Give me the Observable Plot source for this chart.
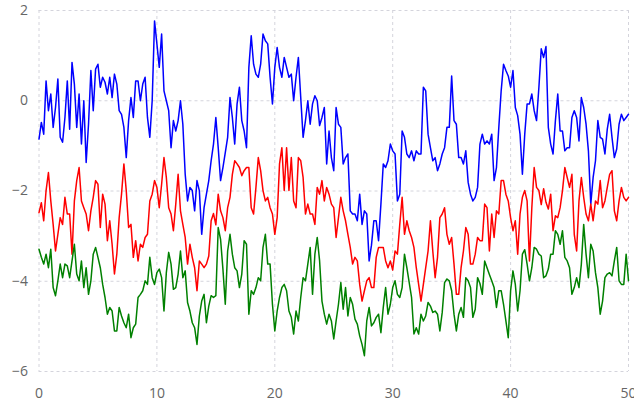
<!DOCTYPE html>
<html>
<head>
<meta charset="utf-8">
<script src="https://cdn.jsdelivr.net/npm/d3@7"></script>
<script src="https://cdn.jsdelivr.net/npm/@observablehq/plot@0.6"></script>
<style>
  html, body { margin: 0; padding: 0; background: #fff; }
</style>
</head>
<body>
<div id="chart"></div>
<script>
// x sampled every 0.2 from 0 to 50
const xStep = 0.2;
const xTicks = [0, 10, 20, 30, 40, 50];
const yTicks = [-6, -4, -2, 0, 2];

const blue = [
  -0.85, -0.48, -0.74, 0.44, -0.22, 0.15, -0.59, -0.15, 0.48, -0.81,
  -0.92, -0.37, 0.44, -0.63, 0.85, 0.37, -0.59, 0.15, -0.96, 0.0,
  -1.37, -0.52, 0.67, -0.22, 0.70, 0.81, 0.30, 0.52, 0.41, 0.15,
  0.52, 0.07, 0.59, 0.37, -0.22, -0.30, -0.59, -1.26, -0.44, 0.07,
  -0.37, 0.44, 0.44, 0.0, 0.37, 0.52, -0.37, -0.81, 0.0, 1.77,
  1.26, 0.74, 1.48, 0.22, 0.0, -0.22, -1.04, -0.44, -0.67, -0.44,
  0.0, -0.52, -1.63, -2.22, -1.92, -1.99, -2.44, -1.77, -1.99, -2.96,
  -2.37, -2.07, -1.77, -1.33, -0.96, -0.37, -1.04, -1.77, -1.48, -1.15,
  -0.81, 0.07, -0.37, -0.96, -0.07, 0.30, -0.44, -0.67, -1.04, 0.74,
  1.44, 0.81, 0.59, 0.52, 0.81, 1.48, 1.33, 1.26, 0.52, -0.07,
  0.74, 1.18, 0.74, 0.52, 0.96, 0.74, 0.52, 0.59, 0.0, 0.52,
  0.96, 0.07, -0.81, -0.44, 0.0, -0.52, -0.07, 0.11, 0.0, -0.55,
  -0.37, -0.15, -1.40, -0.67, -1.26, -1.55, -0.15, -0.52, -0.59, -1.40,
  -1.26, -1.18, -2.44, -2.51, -2.51, -2.66, -2.07, -2.74, -2.44, -2.51,
  -3.55, -3.20, -2.66, -2.66, -3.10, -2.29, -1.40, -1.48, -1.33, -0.96,
  -1.11, -1.18, -2.22, -2.07, -0.67, -0.81, -1.18, -1.26, -1.11, -1.33,
  -1.11, -1.18, -1.18, 0.30, 0.22, -0.74, -1.04, -1.33, -1.26, -1.55,
  -1.40, -1.18, -1.04, -0.59, -0.59, 0.55, -0.44, -0.52, -1.26, -1.26,
  -1.40, -1.11, -1.81, -2.07, -2.22, -2.14, -1.92, -0.96, -0.74, -0.96,
  -0.89, -0.96, -0.74, -1.77, -1.48, -0.59, 0.22, 0.81, 0.67, 0.55,
  0.30, 0.67, -0.15, -0.33, -0.74, -1.63, -0.74, -0.07, -0.07, 0.15,
  -0.22, -0.44, 0.30, 1.15, 0.96, 1.20, -0.59, -0.96, -1.18, -0.44,
  0.15, -0.67, -0.67, -1.11, -1.04, -1.04, -0.37, -0.22, -0.37, -0.89,
  0.07, -0.15, -0.52, -1.11, -2.29, -1.70, -1.33, -0.44, -0.81, -0.85,
  -1.18, -0.63, -0.30, -0.81, -1.26, -1.07, -0.52, -0.30, -0.44, -0.37,
  -0.30
];

const red = [
  -2.48, -2.26, -2.66, -1.99, -1.59, -2.22, -2.74, -3.33, -2.96, -2.59,
  -2.74, -2.14, -2.51, -2.51, -3.40, -2.22, -1.77, -1.48, -2.22, -2.37,
  -2.51, -2.88, -2.44, -2.14, -1.77, -1.85, -2.81, -2.07, -2.29, -3.10,
  -2.66, -3.18, -3.84, -3.40, -2.59, -2.07, -1.40, -1.99, -2.81, -2.74,
  -3.47, -3.10, -3.55, -3.18, -3.25, -3.03, -2.96, -2.22, -2.07, -1.77,
  -1.92, -2.37, -1.85, -1.26, -1.70, -2.37, -2.51, -2.88, -2.29, -1.63,
  -2.44, -2.74, -3.03, -3.62, -3.18, -3.47, -3.70, -4.21, -3.55, -3.62,
  -3.70, -3.62, -3.44, -2.66, -2.50, -2.75, -2.07, -2.44, -2.59, -2.88,
  -2.37, -2.14, -1.63, -1.33, -1.40, -1.48, -1.66, -1.55, -1.48, -1.48,
  -2.37, -2.51, -1.92, -1.26, -1.55, -1.99, -2.22, -2.14, -2.37, -2.51,
  -2.96, -2.59, -1.40, -1.04, -1.99, -1.04, -1.99, -1.26, -2.22, -2.37,
  -1.26, -1.33, -1.70, -2.51, -2.29, -2.51, -2.51, -2.74, -1.92, -2.07,
  -1.77, -2.22, -1.92, -2.07, -2.29, -2.37, -3.03, -2.59, -2.14, -2.44,
  -2.66, -2.96, -3.25, -3.62, -3.47, -3.55, -4.07, -4.44, -4.21, -3.99,
  -3.92, -4.14, -4.14, -3.47, -3.25, -3.25, -3.25, -3.55, -3.70, -3.55,
  -3.75, -3.33, -3.40, -2.74, -2.14, -2.96, -2.66, -2.88, -3.03, -3.25,
  -3.70, -4.07, -4.44, -4.07, -3.70, -3.33, -2.66, -3.33, -3.92, -3.47,
  -2.59, -2.51, -2.37, -2.96, -3.18, -3.03, -3.62, -4.29, -4.29, -3.70,
  -3.33, -2.81, -2.96, -3.62, -3.62, -3.40, -3.03, -3.10, -3.10, -2.29,
  -2.37, -3.33, -2.51, -3.03, -2.44, -2.51, -1.77, -1.77, -2.07, -2.22,
  -2.59, -2.88, -2.66, -3.40, -2.51, -2.14, -1.99, -2.22, -3.55, -2.37,
  -1.48, -1.92, -1.99, -2.30, -1.95, -2.25, -2.40, -2.07, -2.88, -2.55,
  -2.59, -2.37, -1.99, -1.48, -1.70, -1.92, -1.63, -2.96, -3.33, -2.22,
  -1.70, -2.14, -2.51, -2.66, -2.29, -2.66, -2.22, -2.29, -1.77, -2.37,
  -2.22, -1.92, -1.63, -1.55, -2.44, -2.66, -2.22, -1.92, -2.14, -2.22,
  -2.14
];

const green = [
  -3.29, -3.47, -3.62, -3.40, -3.70, -3.29, -4.14, -4.32, -3.99, -3.62,
  -3.92, -3.62, -3.66, -3.92, -3.55, -3.18, -3.84, -3.99, -3.55, -4.14,
  -3.70, -4.29, -3.99, -3.40, -3.25, -3.47, -3.70, -4.07, -4.36, -4.73,
  -4.58, -4.66, -5.10, -5.10, -4.58, -4.77, -4.92, -5.03, -4.73, -5.25,
  -5.03, -4.95, -4.36, -4.29, -4.21, -3.99, -4.07, -3.47, -3.92, -4.07,
  -3.81, -3.73, -3.92, -4.66, -3.81, -3.36, -3.62, -4.18, -4.14, -3.84,
  -3.33, -3.92, -3.77, -4.47, -4.66, -4.92, -5.03, -5.40, -4.77, -4.44,
  -4.29, -4.92, -4.55, -4.32, -4.36, -4.32, -2.81, -3.07, -3.73, -4.51,
  -3.33, -2.96, -3.40, -3.70, -3.77, -4.14, -3.84, -3.10, -3.18, -4.73,
  -4.21, -4.29, -4.14, -3.92, -3.99, -3.25, -2.96, -3.62, -3.62, -4.51,
  -5.10, -4.66, -4.36, -4.14, -4.07, -4.21, -4.66, -4.80, -5.17, -4.66,
  -4.88, -4.36, -3.92, -3.99, -3.62, -3.25, -4.29, -3.40, -3.03, -3.55,
  -4.44, -4.73, -4.95, -4.73, -4.88, -5.28, -4.88, -4.51, -4.03, -4.62,
  -4.14, -4.77, -4.36, -4.51, -4.84, -4.95, -5.21, -5.40, -5.65, -4.88,
  -4.58, -4.99, -4.92, -4.80, -4.73, -5.14, -4.58, -4.14, -4.73, -4.51,
  -4.14, -3.99, -4.29, -4.36, -4.14, -3.40, -3.70, -4.03, -4.36, -5.17,
  -5.03, -5.17, -4.73, -4.88, -4.77, -4.47, -4.55, -4.69, -4.66, -4.73,
  -5.10, -4.69, -4.03, -3.95, -3.99, -4.21, -4.73, -5.10, -4.73, -4.58,
  -4.80, -3.92, -3.99, -4.14, -4.80, -4.62, -3.92, -4.05, -4.29, -3.55,
  -3.70, -3.85, -3.99, -4.14, -4.58, -4.21, -4.21, -4.51, -4.88, -5.25,
  -4.21, -3.77, -4.07, -4.66, -4.21, -3.40, -3.30, -3.62, -3.99, -3.70,
  -3.25, -3.29, -3.40, -3.44, -3.92, -3.88, -3.73, -3.40, -3.40, -2.88,
  -2.96, -3.18, -2.88, -3.47, -3.55, -3.70, -4.29, -4.14, -3.92, -4.14,
  -3.62, -2.74, -3.40, -3.92, -3.18, -3.33, -3.81, -4.14, -4.73, -4.44,
  -3.92, -3.84, -3.81, -3.88, -3.55, -3.25, -3.99, -4.07, -4.07, -3.40,
  -3.99
];

const seriesNames = ["blue", "red", "green"];
const seriesColors = ["#0000ff", "#ff0000", "#008000"];
const seriesValues = [blue, red, green];

const rows = [];
seriesValues.forEach((vals, s) => {
  vals.forEach((v, i) => rows.push({series: seriesNames[s], x: +(i * xStep).toFixed(2), y: v}));
});

const gridStyle = {stroke: "#d4d4dc", strokeOpacity: 1, strokeWidth: 1, strokeDasharray: "3,3"};

const chart = Plot.plot({
  width: 634,
  height: 402,
  marginLeft: 38.5,
  marginRight: 6,
  marginTop: 10,
  marginBottom: 31,
  style: {fontFamily: "'Open Sans', sans-serif", fontSize: "14px", color: "#666", background: "#fff"},
  x: {domain: [0, 50]},
  y: {domain: [-6, 2]},
  color: {domain: seriesNames, range: seriesColors},
  marks: [
    Plot.gridX(xTicks, gridStyle),
    Plot.gridY(yTicks, gridStyle),
    Plot.axisX(xTicks, {tickSize: 0, tickPadding: 17, label: null, fill: "#666"}),
    Plot.axisY(yTicks, {tickSize: 0, tickPadding: 11, label: null, fill: "#666"}),
    Plot.line(rows, {x: "x", y: "y", z: "series", stroke: "series", strokeWidth: 1.5, curve: "linear"})
  ]
});

document.getElementById("chart").appendChild(chart);
</script>
</body>
</html>
